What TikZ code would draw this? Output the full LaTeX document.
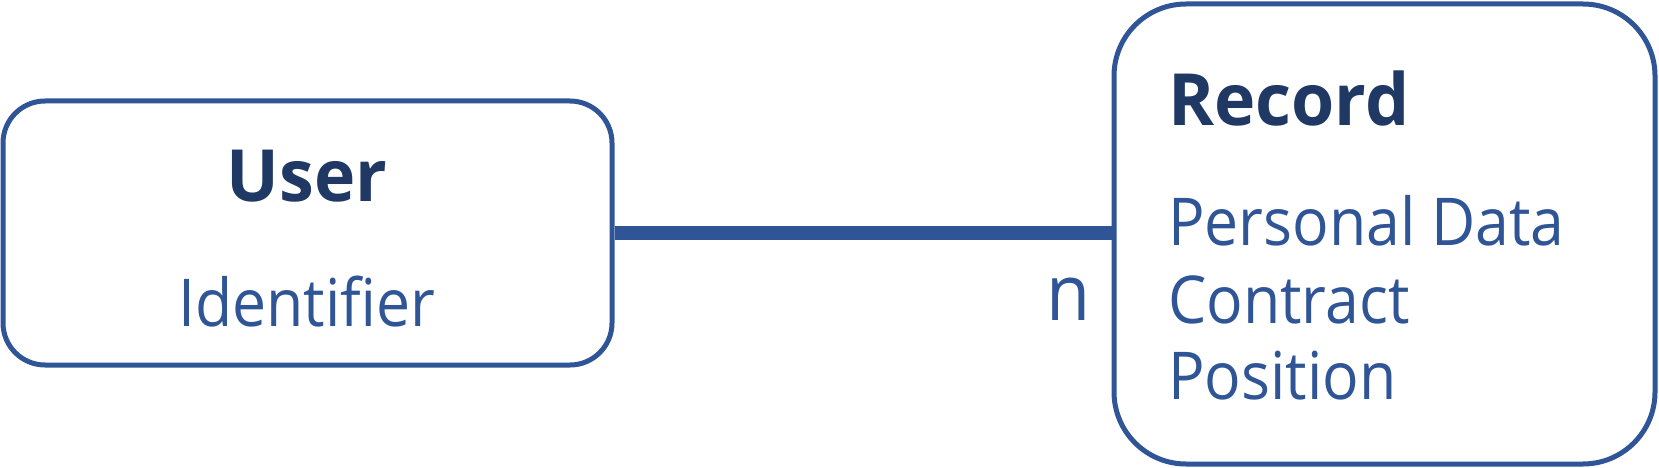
\documentclass[tikz,border=0pt]{standalone}
\usepackage{fontspec}
\setmainfont{Open Sans}
\newfontfamily\attrfont{Open Sans}[FakeStretch=0.92]
\newfontfamily\titlefont{Open Sans}[FakeStretch=0.97]
\definecolor{boxblue}{HTML}{2F5597}
\definecolor{navy}{HTML}{1F3864}
\tikzset{
  entity/.style={draw=boxblue, line width=5pt, fill=white, rectangle, inner sep=0pt},
  title/.style={inner sep=0pt, text=navy, font=\titlefont\fontsize{72}{80}\selectfont\bfseries},
  attr/.style={inner sep=0pt, text=boxblue, font=\attrfont\fontsize{66}{74}\selectfont},
  rel/.style={draw=boxblue, line width=14pt}
}
\begin{document}
\begin{tikzpicture}[x=1pt,y=-1pt]
\useasboundingbox (0,0) rectangle (1659,468);
\node[entity, rounded corners=42pt, minimum width=609pt, minimum height=264pt] (user) at (307.5,233) {};
\node[entity, rounded corners=72pt, minimum width=541pt, minimum height=460pt] (record) at (1384.5,234) {};
\draw[rel] (user.east) -- (user.east -| record.west);
\node[title, anchor=base] (usert) at (307,201) {User};
\node[attr, anchor=base] (ident) at (307,326) {Identifier};
\node[title, anchor=base west] (recordt) at (1168,125) {Record};
\node[attr, anchor=base west] (pd) at (1168,245) {Personal Data};
\node[attr, anchor=base west] (ct) at (1168,323) {Contract};
\node[attr, anchor=base west] (pos) at (1168,399) {Position};
\node[attr, anchor=base west, font=\attrfont\fontsize{78}{80}\selectfont] (n) at (1046,320) {n};
\end{tikzpicture}
\end{document}
